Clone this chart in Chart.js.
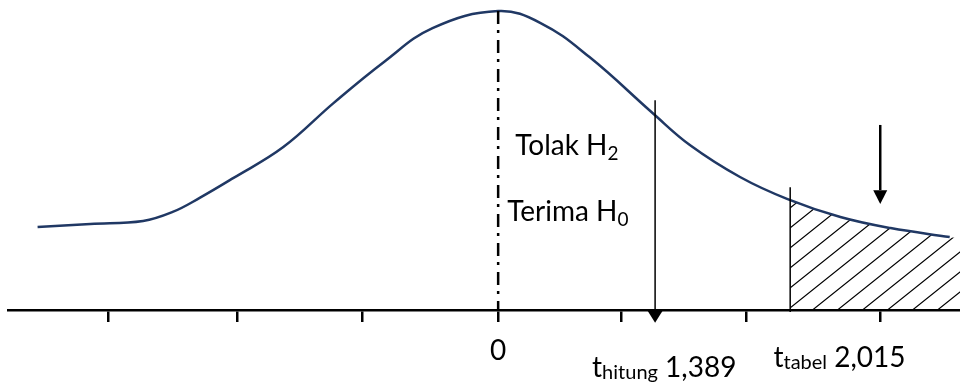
<!DOCTYPE html>
<html>
<head>
<meta charset="utf-8">
<script src="https://cdn.jsdelivr.net/npm/chart.js@4"></script>
<style>
  body { margin: 0; background: #fff; }
  #wrap { width: 960px; height: 385px; }
</style>
</head>
<body>
<div id="wrap"><canvas id="myChart"></canvas></div>
<script>
// t distribution curve (x in tick units, y relative to the peak)
const curveX = [-3.58, -3.17, -2.76, -2.53, -2.32, -2.06, -1.67, -1.28, -0.89, -0.51, 0, 0.33, 0.71, 1.20, 1.49, 1.88, 2.25, 2.66, 3.05, 3.51];
const curveY = [0.278, 0.288, 0.298, 0.328, 0.375, 0.441, 0.545, 0.692, 0.829, 0.943, 1.0, 0.960, 0.846, 0.659, 0.552, 0.445, 0.371, 0.311, 0.274, 0.244];

// hatched rejection area to the right of t tabel
const hatchX = [2.27, 2.66, 3.05, 3.51, 3.59];
const hatchY = [0.367, 0.311, 0.274, 0.244, 0.238];

// x axis ticks
const tickValues = [-3.03, -2.03, -1.06, 0, 0.96, 1.93, 2.97];
const tickLabels = ['', '', '', '0', '', '', ''];

// markers
const tHitungPos = 1.22;   // arrow for t hitung
const tTabelPos = 2.27;    // boundary line for t tabel
const rejectArrowPos = 2.97;
const tHitungText = '1,389';
const tTabelText = '2,015';

const fontFamily = 'Lato, "Open Sans", sans-serif';

// diagonal hatch pattern
function makeHatch() {
    const c = document.createElement('canvas');
    c.width = 25;
    c.height = 20;
    const g = c.getContext('2d');
    g.strokeStyle = '#000';
    g.lineWidth = 1.2;
    g.beginPath();
    g.moveTo(-25, 40);
    g.lineTo(50, -20);
    g.moveTo(-50, 40);
    g.lineTo(25, -20);
    g.moveTo(0, 40);
    g.lineTo(75, -20);
    g.stroke();
    return g.createPattern(c, 'repeat');
}

function line(ctx, x1, y1, x2, y2) {
    ctx.beginPath();
    ctx.moveTo(x1, y1);
    ctx.lineTo(x2, y2);
    ctx.stroke();
}

function arrow(ctx, px, yTop, yBase, yTip, halfW, lw) {
    ctx.lineWidth = lw;
    line(ctx, px, yTop, px, yBase);
    ctx.beginPath();
    ctx.moveTo(px - halfW, yBase);
    ctx.lineTo(px + halfW, yBase);
    ctx.lineTo(px, yTip);
    ctx.closePath();
    ctx.fill();
}

// draws text pieces one after another: [text, size, baseline shift]
function richText(ctx, px, py, parts) {
    ctx.textBaseline = 'alphabetic';
    ctx.textAlign = 'left';
    parts.forEach(p => {
        ctx.font = p[1] + 'px ' + fontFamily;
        ctx.fillText(p[0], px, py + p[2]);
        px += ctx.measureText(p[0]).width;
    });
}

const annotations = {
    id: 'annotations',
    afterDatasetsDraw(chart) {
        const ctx = chart.ctx;
        const xs = chart.scales.x;
        const ys = chart.scales.y;
        ctx.save();
        ctx.strokeStyle = '#000';
        ctx.fillStyle = '#000';

        // dash-dot line at 0
        ctx.lineWidth = 2.5;
        ctx.setLineDash([13, 6, 3, 7]);
        line(ctx, xs.getPixelForValue(0), ys.getPixelForValue(1.0), xs.getPixelForValue(0), ys.getPixelForValue(0));
        ctx.setLineDash([]);

        // t hitung arrow
        const ph = xs.getPixelForValue(tHitungPos);
        arrow(ctx, ph, ys.getPixelForValue(0.702), ys.getPixelForValue(0), ys.getPixelForValue(-0.043), 8, 1.5);

        // t tabel boundary
        const pt = xs.getPixelForValue(tTabelPos);
        ctx.lineWidth = 1.5;
        line(ctx, pt, ys.getPixelForValue(0.411), pt, ys.getPixelForValue(-0.007));

        // arrow into rejection area
        const pr = xs.getPixelForValue(rejectArrowPos);
        arrow(ctx, pr, ys.getPixelForValue(0.619), ys.getPixelForValue(0.401), ys.getPixelForValue(0.355), 7, 2.5);

        // texts
        ctx.fillStyle = '#000';
        richText(ctx, xs.getPixelForValue(0.132), ys.getPixelForValue(0.518), [['Tolak H', 28, 0], ['2', 19, 5]]);
        richText(ctx, xs.getPixelForValue(0.07), ys.getPixelForValue(0.298), [['Terima H', 28, 0], ['0', 19, 5]]);
        richText(ctx, xs.getPixelForValue(0.73), ys.getPixelForValue(-0.224), [['t', 28, 0], ['hitung', 20, 2], [' ' + tHitungText, 28, 0]]);
        richText(ctx, xs.getPixelForValue(2.14), ys.getPixelForValue(-0.191), [['t', 28, 0], ['tabel', 20, 2], [' ' + tTabelText, 28, 0]]);
        ctx.restore();
    }
};

const ctx = document.getElementById('myChart').getContext('2d');
const chart = new Chart(ctx, {
    type: 'line',
    data: {
        datasets: [{
            data: curveX.map((x, i) => ({ x: x, y: curveY[i] })),
            borderColor: '#203864',
            borderWidth: 2.5,
            pointRadius: 0,
            tension: 0.4,
            fill: false
        }, {
            data: hatchX.map((x, i) => ({ x: x, y: hatchY[i] })),
            borderWidth: 0,
            borderColor: 'rgba(0,0,0,0)',
            pointRadius: 0,
            tension: 0.4,
            backgroundColor: makeHatch(),
            fill: { value: -0.03 },
            clip: false
        }]
    },
    options: {
        responsive: true,
        maintainAspectRatio: false,
        animation: false,
        layout: { padding: { left: 8, right: 0, top: 0, bottom: 0 } },
        plugins: {
            legend: { display: false },
            tooltip: { enabled: false }
        },
        scales: {
            x: {
                type: 'linear',
                min: -3.81,
                max: 3.59,
                afterFit: function (scale) { scale.height = 75; },
                afterBuildTicks: function (scale) {
                    scale.ticks = tickValues.map(v => ({ value: v }));
                },
                border: { display: true, color: '#000', width: 2.5 },
                grid: {
                    display: true,
                    drawOnChartArea: false,
                    drawTicks: true,
                    tickLength: 12,
                    color: '#000',
                    lineWidth: 2.5
                },
                ticks: {
                    color: '#000',
                    padding: 12,
                    maxRotation: 0,
                    autoSkip: false,
                    font: { family: fontFamily, size: 28 },
                    callback: (value, index) => tickLabels[index]
                }
            },
            y: {
                display: false,
                min: 0,
                max: 1.037
            }
        }
    },
    plugins: [annotations]
});
</script>
</body>
</html>
